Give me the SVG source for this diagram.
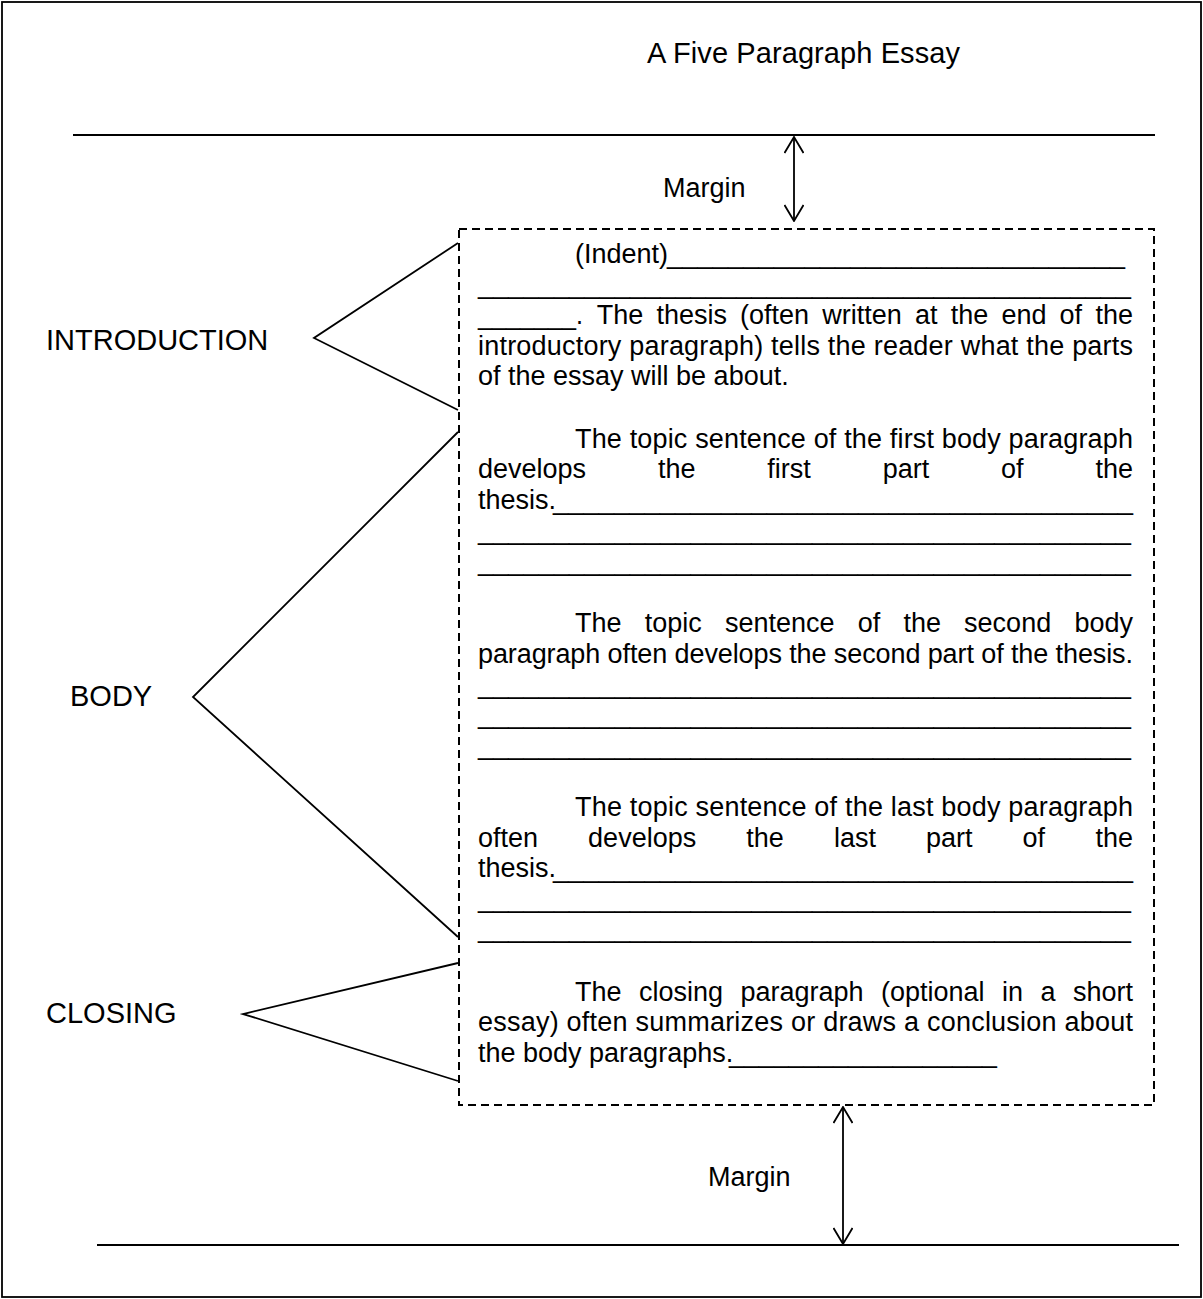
<svg xmlns="http://www.w3.org/2000/svg" width="1203" height="1299" viewBox="0 0 1203 1299">
<style>
  .t { font-family: "Liberation Sans", Arial, sans-serif; font-size: 27px; fill: #000; }
  .lbl { font-family: "Liberation Sans", Arial, sans-serif; font-size: 29px; fill: #000; }
  .e { text-anchor: end; }
  .ln { stroke: #000; stroke-width: 1.8; fill: none; }
  .dash { stroke: #000; stroke-width: 2; fill: none; stroke-dasharray: 8 5; }
</style>
<defs>
  <marker id="ah" markerUnits="userSpaceOnUse" viewBox="0 0 18 20" markerWidth="18" markerHeight="20" refX="17" refY="10" orient="auto-start-reverse">
    <path d="M1,0.5 L17,10 L1,19.5" fill="none" stroke="#000" stroke-width="1.8"/>
  </marker>
</defs>
<rect x="0" y="0" width="1203" height="1299" fill="#fff"/>
<rect id="page" x="2" y="2" width="1199" height="1295" fill="none" stroke="#000" stroke-width="1.8"/>

<g id="title"><text class="lbl" x="647" y="63" textLength="313">A Five Paragraph Essay</text></g>

<g id="margin-lines">
  <line class="ln" x1="73" y1="135" x2="1155" y2="135"/>
  <line class="ln" x1="97" y1="1245" x2="1179" y2="1245"/>
</g>

<g id="margin-top-label"><text class="t" x="663" y="197">Margin</text></g>
<g id="margin-bottom-label"><text class="t" x="708" y="1186">Margin</text></g>

<g id="essay-box"><rect class="dash" x="459" y="229" width="695" height="876"/></g>

<g id="introduction-label"><text class="lbl" x="46" y="350">INTRODUCTION</text></g>
<g id="body-label"><text class="lbl" x="70" y="706">BODY</text></g>
<g id="closing-label"><text class="lbl" x="46" y="1023">CLOSING</text></g>

<g id="introduction-text">
  <text class="t" x="575" y="263">(Indent)</text>
  <text class="t" x="667" y="263" textLength="458" lengthAdjust="spacingAndGlyphs">______________________________</text>
  <text class="t" x="478" y="293" textLength="653" lengthAdjust="spacingAndGlyphs">___________________________________________</text>
  <text class="t" x="478" y="324" textLength="105" lengthAdjust="spacingAndGlyphs">_______.</text>
  <text class="t" x="596.7" y="324">The</text>
  <text class="t" x="656.4" y="324">thesis</text>
  <text class="t" x="740.1" y="324">(often</text>
  <text class="t" x="822.3" y="324">written</text>
  <text class="t" x="915" y="324">at</text>
  <text class="t" x="950.7" y="324">the</text>
  <text class="t" x="1001.4" y="324">end</text>
  <text class="t" x="1059.6" y="324">of</text>
  <text class="t e" x="1133" y="324">the</text>
  <text class="t" x="478" y="354.5" textLength="655" lengthAdjust="spacing">introductory paragraph) tells the reader what the parts</text>
  <text class="t" x="478" y="385">of the essay will be about.</text>
</g>

<g id="body1-text">
  <text class="t" x="575" y="448" textLength="558" lengthAdjust="spacing">The topic sentence of the first body paragraph</text>
  <text class="t" x="478" y="478">develops</text>
  <text class="t" x="657.9" y="478">the</text>
  <text class="t" x="767.3" y="478">first</text>
  <text class="t" x="882.7" y="478">part</text>
  <text class="t" x="1001.1" y="478">of</text>
  <text class="t e" x="1133" y="478">the</text>
  <text class="t" x="478" y="508.5">thesis.</text>
  <text class="t" x="553" y="508.5" textLength="580" lengthAdjust="spacingAndGlyphs">______________________________________</text>
  <text class="t" x="478" y="539" textLength="653" lengthAdjust="spacingAndGlyphs">___________________________________________</text>
  <text class="t" x="478" y="569.5" textLength="653" lengthAdjust="spacingAndGlyphs">___________________________________________</text>
</g>

<g id="body2-text">
  <text class="t" x="575" y="632">The</text>
  <text class="t" x="644.7" y="632">topic</text>
  <text class="t" x="724.9" y="632">sentence</text>
  <text class="t" x="857.7" y="632">of</text>
  <text class="t" x="903.4" y="632">the</text>
  <text class="t" x="964.1" y="632">second</text>
  <text class="t e" x="1133" y="632">body</text>
  <text class="t" x="478" y="662.5" textLength="655" lengthAdjust="spacing">paragraph often develops the second part of the thesis.</text>
  <text class="t" x="478" y="692.5" textLength="653" lengthAdjust="spacingAndGlyphs">___________________________________________</text>
  <text class="t" x="478" y="723" textLength="653" lengthAdjust="spacingAndGlyphs">___________________________________________</text>
  <text class="t" x="478" y="753.5" textLength="653" lengthAdjust="spacingAndGlyphs">___________________________________________</text>
</g>

<g id="body3-text">
  <text class="t" x="575" y="816" textLength="558" lengthAdjust="spacing">The topic sentence of the last body paragraph</text>
  <text class="t" x="478" y="846.5">often</text>
  <text class="t" x="588.1" y="846.5">develops</text>
  <text class="t" x="746.3" y="846.5">the</text>
  <text class="t" x="833.9" y="846.5">last</text>
  <text class="t" x="926" y="846.5">part</text>
  <text class="t" x="1022.6" y="846.5">of</text>
  <text class="t e" x="1133" y="846.5">the</text>
  <text class="t" x="478" y="877">thesis.</text>
  <text class="t" x="553" y="877" textLength="580" lengthAdjust="spacingAndGlyphs">______________________________________</text>
  <text class="t" x="478" y="906.5" textLength="653" lengthAdjust="spacingAndGlyphs">___________________________________________</text>
  <text class="t" x="478" y="937" textLength="653" lengthAdjust="spacingAndGlyphs">___________________________________________</text>
</g>

<g id="closing-text">
  <text class="t" x="575" y="1000.5">The</text>
  <text class="t" x="639" y="1000.5">closing</text>
  <text class="t" x="740.5" y="1000.5">paragraph</text>
  <text class="t" x="881" y="1000.5">(optional</text>
  <text class="t" x="1002" y="1000.5">in</text>
  <text class="t" x="1040.5" y="1000.5">a</text>
  <text class="t e" x="1133" y="1000.5">short</text>
  <text class="t" x="478" y="1031" textLength="655" lengthAdjust="spacing">essay) often summarizes or draws a conclusion about</text>
  <text class="t" x="478" y="1061.5">the body paragraphs.</text>
  <text class="t" x="729" y="1061.5" textLength="268" lengthAdjust="spacingAndGlyphs">__________________</text>
</g>

<g id="connectors">
  <polyline class="ln" points="458,243 314,338 458,410"/>
  <polyline class="ln" points="458,432 193,697 458,937"/>
  <polyline class="ln" points="458,963 243,1014 458,1081"/>
  <line class="ln" x1="794" y1="137" x2="794" y2="221" marker-start="url(#ah)" marker-end="url(#ah)"/>
  <line class="ln" x1="843" y1="1107" x2="843" y2="1244" marker-start="url(#ah)" marker-end="url(#ah)"/>
</g>
</svg>
